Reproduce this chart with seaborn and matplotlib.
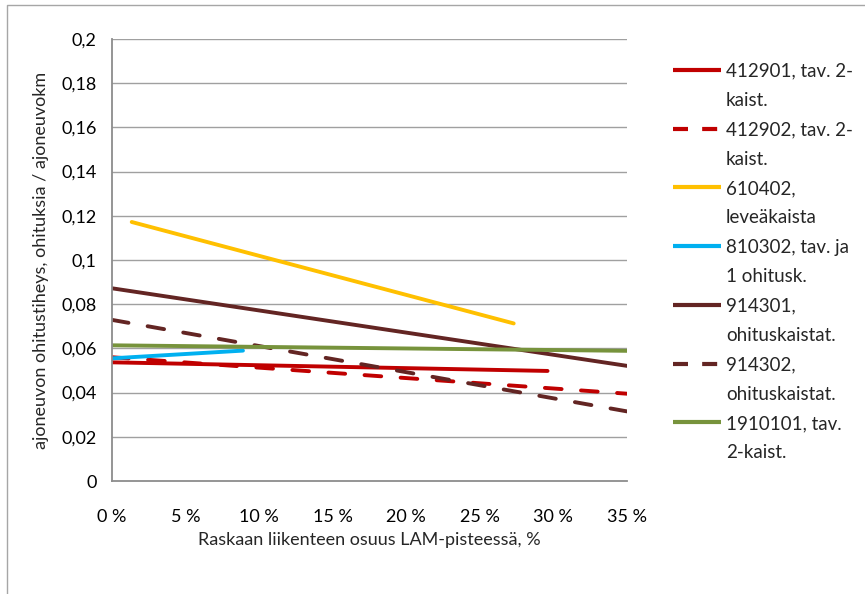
import matplotlib
matplotlib.use("Agg")
import matplotlib.pyplot as plt
import pandas as pd
import seaborn as sns
from matplotlib.lines import Line2D

# Trend lines: share of heavy traffic (fraction) vs. passing rate
series = ["412901, tav. 2-\nkaist.", "412902, tav. 2-\nkaist.", "610402,\nleveäkaista",
          "810302, tav. ja\n1 ohitusk.", "914301,\nohituskaistat.", "914302,\nohituskaistat.",
          "1910101, tav.\n2-kaist."]
x_start = [0.0, 0.0, 0.0134, 0.0, 0.0, 0.0, 0.0]
x_end = [0.296, 0.35, 0.273, 0.089, 0.35, 0.35, 0.35]
y_start = [0.0537, 0.0560, 0.1172, 0.0555, 0.0872, 0.0729, 0.0614]
y_end = [0.0498, 0.0395, 0.0713, 0.0590, 0.0521, 0.0315, 0.0589]
colors = ["#C00000", "#C00000", "#FFC000", "#00B0F0", "#632523", "#632523", "#77933C"]
dashed = [False, True, False, False, False, True, False]

x_ticks = [0, 0.05, 0.10, 0.15, 0.20, 0.25, 0.30, 0.35]
x_tick_labels = ["0 %", "5 %", "10 %", "15 %", "20 %", "25 %", "30 %", "35 %"]
y_ticks = [0, 0.02, 0.04, 0.06, 0.08, 0.10, 0.12, 0.14, 0.16, 0.18, 0.20]
y_tick_labels = ["0", "0,02", "0,04", "0,06", "0,08", "0,1", "0,12", "0,14", "0,16", "0,18", "0,2"]

rows = []
for name, xs, xe, ys, ye in zip(series, x_start, x_end, y_start, y_end):
    rows.append({"series": name, "x": xs, "y": ys})
    rows.append({"series": name, "x": xe, "y": ye})
df = pd.DataFrame(rows)

sns.set_style("white")
plt.rcParams["font.family"] = ["Lato", "DejaVu Sans"]

W, H = 865, 594
fig = plt.figure(figsize=(W / 100, H / 100), dpi=100)
ax = fig.add_axes([112 / W, 1 - 481 / H, (627 - 112) / W, (481 - 39) / H])

# chart-area frame (top and left edges)
fig.lines.append(Line2D([7.5 / W, 7.5 / W, 1.0], [0.0, 1 - 4.5 / H, 1 - 4.5 / H],
                        transform=fig.transFigure, color="#A6A6A6", linewidth=1.0))

for yt in y_ticks[1:]:
    ax.axhline(yt, color="#A0A0A0", linewidth=1.0, zorder=0)

LW = 2.8
DASH = [4.3, 5.0]
for name, col, dsh in zip(series, colors, dashed):
    sub = df[df["series"] == name]
    sns.lineplot(data=sub, x="x", y="y", ax=ax, color=col, linewidth=LW,
                 solid_capstyle="round", dash_capstyle="round",
                 dashes=False, sort=False, legend=False)
    if dsh:
        ax.get_lines()[-1].set_dashes(DASH)

ax.set_xlim(0, 0.35)
ax.set_ylim(0, 0.2)
ax.set_xticks(x_ticks)
ax.set_xticklabels(x_tick_labels)
ax.set_yticks(y_ticks)
ax.set_yticklabels(y_tick_labels)
ax.tick_params(axis="both", which="both", labelsize=13, colors="#000000",
               length=5, width=1, direction="out")
ax.tick_params(axis="x", color="#8C8C8C", pad=15)
ax.tick_params(axis="y", color="#8C8C8C", pad=6)
for s in ["top", "right"]:
    ax.spines[s].set_visible(False)
for s in ["left", "bottom"]:
    ax.spines[s].set_color("#8C8C8C")
    ax.spines[s].set_linewidth(1.3)

ax.set_xlabel("Raskaan liikenteen osuus LAM-pisteessä, %", fontsize=13, labelpad=5)
ax.set_ylabel("ajoneuvon ohitustiheys, ohituksia / ajoneuvokm", fontsize=13, labelpad=9)

# legend: one row per text line, the key sits on the first line of each entry
handles, labels = [], []
for name, col, dsh in zip(series, colors, dashed):
    first, second = name.split("\n")
    h = Line2D([], [], color=col, linewidth=3, solid_capstyle="butt", dash_capstyle="butt")
    if dsh:
        h.set_dashes([3.6, 3.4])
    handles.append(h)
    labels.append(first)
    handles.append(Line2D([], [], color="none"))
    labels.append(second)

leg = fig.legend(handles, labels, loc="upper left",
                 bbox_to_anchor=(665 / W, 1 - 55 / H), bbox_transform=fig.transFigure,
                 frameon=False, fontsize=13.5, handlelength=2.6, handletextpad=0.25,
                 labelspacing=0.66, borderaxespad=0)

fig.savefig("out.png", dpi=100)
